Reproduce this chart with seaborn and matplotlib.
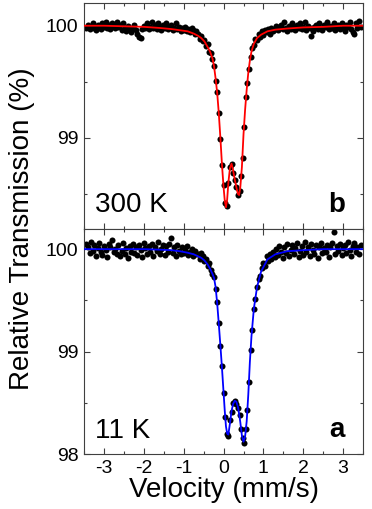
import numpy as np
import matplotlib
matplotlib.use("Agg")
import matplotlib.pyplot as plt
from matplotlib.ticker import MultipleLocator
import seaborn as sns

# velocity channels (mm/s)
velocity = [
    -3.44, -3.40, -3.36, -3.32, -3.28, -3.24, -3.20, -3.16, -3.12, -3.08,
    -3.04, -3.00, -2.96, -2.92, -2.88, -2.84, -2.80, -2.76, -2.72, -2.68,
    -2.64, -2.60, -2.56, -2.52, -2.48, -2.44, -2.40, -2.36, -2.32, -2.28,
    -2.24, -2.20, -2.16, -2.12, -2.08, -2.04, -2.00, -1.96, -1.92, -1.88,
    -1.84, -1.80, -1.76, -1.72, -1.68, -1.64, -1.60, -1.56, -1.52, -1.48,
    -1.44, -1.40, -1.36, -1.32, -1.28, -1.24, -1.20, -1.16, -1.12, -1.08,
    -1.04, -1.00, -0.96, -0.92, -0.88, -0.84, -0.80, -0.76, -0.72, -0.68,
    -0.64, -0.60, -0.56, -0.52, -0.48, -0.44, -0.40, -0.36, -0.32, -0.28,
    -0.24, -0.20, -0.16, -0.12, -0.08, -0.04, 0.00, 0.04, 0.08, 0.12,
    0.16, 0.20, 0.24, 0.28, 0.32, 0.36, 0.40, 0.44, 0.48, 0.52,
    0.56, 0.60, 0.64, 0.68, 0.72, 0.76, 0.80, 0.84, 0.88, 0.92,
    0.96, 1.00, 1.04, 1.08, 1.12, 1.16, 1.20, 1.24, 1.28, 1.32,
    1.36, 1.40, 1.44, 1.48, 1.52, 1.56, 1.60, 1.64, 1.68, 1.72,
    1.76, 1.80, 1.84, 1.88, 1.92, 1.96, 2.00, 2.04, 2.08, 2.12,
    2.16, 2.20, 2.24, 2.28, 2.32, 2.36, 2.40, 2.44, 2.48, 2.52,
    2.56, 2.60, 2.64, 2.68, 2.72, 2.76, 2.80, 2.84, 2.88, 2.92,
    2.96, 3.00, 3.04, 3.08, 3.12, 3.16, 3.20, 3.24, 3.28, 3.32,
    3.36, 3.40, 3.44,
]

# measured transmission, 300 K (panel b)
trans_300K = [
    99.98, 100.01, 99.97, 99.99, 100.02, 99.98, 99.96, 100.01, 100.00, 99.97,
    100.02, 99.99, 100.03, 99.98, 100.01, 99.97, 100.02, 100.00, 99.98, 100.03,
    99.99, 100.01, 99.96, 100.02, 99.98, 99.95, 100.00, 99.97, 99.94, 99.98,
    100.01, 99.96, 99.93, 99.90, 99.89, 99.97, 100.00, 99.98, 100.02, 99.97,
    99.99, 100.03, 99.98, 100.01, 99.97, 100.02, 99.99, 99.96, 100.01, 99.98,
    100.02, 99.97, 99.99, 100.01, 99.96, 99.98, 100.02, 99.97, 99.99, 99.95,
    99.98, 99.96, 99.99, 99.95, 99.97, 99.94, 99.98, 99.96, 99.93, 99.95,
    99.93, 99.88, 99.91, 99.86, 99.87, 99.82, 99.84, 99.77, 99.76, 99.70,
    99.64, 99.51, 99.41, 99.22, 98.99, 98.76, 98.58, 98.42, 98.39, 98.60,
    98.74, 98.77, 98.69, 98.62, 98.56, 98.49, 98.53, 98.66, 98.82, 99.10,
    99.36, 99.49, 99.61, 99.72, 99.80, 99.83, 99.88, 99.87, 99.93, 99.90,
    99.95, 99.92, 99.96, 99.94, 99.97, 99.93, 99.98, 99.95, 99.97, 100.00,
    99.96, 99.99, 100.01, 99.97, 100.03, 99.98, 99.95, 100.00, 99.97, 100.02,
    99.99, 99.96, 100.01, 99.98, 100.02, 99.97, 99.99, 100.03, 99.96, 100.00,
    99.98, 99.91, 99.95, 99.99, 100.01, 99.97, 100.02, 99.98, 99.96, 100.01,
    99.99, 100.03, 99.97, 100.00, 99.98, 100.02, 99.96, 99.99, 100.01, 99.97,
    100.02, 99.98, 99.95, 100.01, 99.99, 100.03, 99.97, 99.94, 99.93, 100.02,
    99.98, 100.04, 99.99,
]

# measured transmission, 11 K (panel a)
trans_11K = [
    100.05, 100.02, 99.96, 100.07, 99.98, 100.04, 99.93, 100.01, 100.06, 99.97,
    99.94, 100.03, 99.99, 99.92, 100.05, 100.02, 100.09, 99.97, 100.00, 99.95,
    100.04, 99.93, 99.98, 100.06, 99.95, 100.01, 99.91, 100.03, 99.97, 100.05,
    99.96, 100.02, 99.94, 100.04, 99.99, 99.92, 100.06, 100.01, 99.95, 100.03,
    99.97, 100.05, 99.93, 100.02, 99.98, 100.07, 99.95, 100.00, 100.04, 99.94,
    100.03, 99.97, 100.05, 100.11, 99.96, 100.02, 99.93, 100.04, 99.98, 99.95,
    100.02, 99.96, 99.99, 100.03, 99.94, 99.97, 100.00, 99.93, 99.98, 99.95,
    99.95, 99.90, 99.96, 99.93, 99.88, 99.90, 99.84, 99.86, 99.80, 99.76,
    99.73, 99.61, 99.48, 99.28, 99.05, 98.86, 98.60, 98.36, 98.20, 98.18,
    98.33, 98.41, 98.50, 98.52, 98.49, 98.45, 98.38, 98.24, 98.16, 98.11,
    98.24, 98.43, 98.70, 99.02, 99.21, 99.42, 99.51, 99.63, 99.71, 99.74,
    99.82, 99.86, 99.84, 99.93, 99.88, 99.95, 99.90, 99.97, 99.92, 100.00,
    99.94, 100.03, 99.97, 99.91, 100.02, 99.96, 100.05, 99.93, 99.99, 100.04,
    99.95, 100.01, 100.06, 99.92, 99.98, 100.03, 99.94, 100.07, 99.97, 100.02,
    99.93, 100.05, 99.99, 99.95, 100.04, 99.91, 100.02, 100.06, 99.96, 100.01,
    99.97, 100.04, 99.92, 100.02, 100.06, 100.17, 99.95, 100.03, 99.98, 100.05,
    99.94, 100.01, 100.04, 99.96, 100.07, 99.99, 99.93, 100.03, 100.06, 99.97,
    100.02, 99.95, 100.04,
]

# fitted curves
fit_velocity = [
    -3.5, -3.0, -2.5, -2.0, -1.6, -1.3, -1.1, -0.9, -0.75, -0.64,
    -0.56, -0.48, -0.40, -0.34, -0.28, -0.24, -0.20, -0.16, -0.12, -0.08,
    -0.04, 0.00, 0.03, 0.06, 0.09, 0.12, 0.16, 0.20, 0.24, 0.28,
    0.32, 0.36, 0.39, 0.42, 0.46, 0.50, 0.54, 0.58, 0.62, 0.66,
    0.70, 0.76, 0.84, 0.94, 1.1, 1.3, 1.6, 2.0, 2.5, 3.0, 3.5,
]
fit_300K = [
    100.00, 100.00, 99.995, 99.99, 99.98, 99.97, 99.96, 99.95, 99.93, 99.91,
    99.89, 99.86, 99.81, 99.77, 99.71, 99.64, 99.53, 99.40, 99.22, 99.00,
    98.76, 98.56, 98.44, 98.38, 98.45, 98.60, 98.73, 98.77, 98.71, 98.63,
    98.56, 98.50, 98.49, 98.56, 98.74, 99.03, 99.25, 99.43, 99.58, 99.69,
    99.77, 99.84, 99.89, 99.92, 99.95, 99.965, 99.975, 99.985, 99.99, 100.00, 100.00,
]
fit_11K = [
    100.00, 100.00, 100.00, 100.00, 99.995, 99.99, 99.98, 99.965, 99.95, 99.93,
    99.915, 99.89, 99.85, 99.81, 99.76, 99.72, 99.63, 99.47, 99.27, 99.06,
    98.84, 98.60, 98.42, 98.27, 98.20, 98.19, 98.30, 98.42, 98.49, 98.52,
    98.51, 98.46, 98.39, 98.31, 98.18, 98.12, 98.17, 98.32, 98.58, 98.90,
    99.15, 99.42, 99.63, 99.78, 99.90, 99.95, 99.98, 99.99, 100.00, 100.00, 100.00,
]

sns.set_style("white")
plt.rcParams['font.family'] = ['Liberation Sans', 'DejaVu Sans']
plt.rcParams['text.color'] = 'black'
plt.rcParams['axes.labelcolor'] = 'black'
plt.rcParams['xtick.color'] = 'black'
plt.rcParams['ytick.color'] = 'black'

fig, (ax_b, ax_a) = plt.subplots(2, 1, sharex=True, figsize=(3.72, 5.09), dpi=100)
fig.subplots_adjust(left=0.226, right=0.976, top=0.9935, bottom=0.108, hspace=0)

panels = [
    (ax_b, trans_300K, fit_300K, 'red', '300 K', 'b', (98.19, 100.2)),
    (ax_a, trans_11K, fit_11K, 'blue', '11 K', 'a', (98.0, 100.2)),
]

for ax, trans, fit, col, temp, letter, ylim in panels:
    sns.scatterplot(x=velocity, y=trans, ax=ax, color='black', s=19,
                    linewidth=0, zorder=2)
    sns.lineplot(x=fit_velocity, y=fit, ax=ax, color=col, linewidth=1.3,
                 zorder=3)
    ax.set_xlim(-3.5, 3.5)
    ax.set_ylim(*ylim)
    ax.xaxis.set_major_locator(MultipleLocator(1))
    ax.xaxis.set_minor_locator(MultipleLocator(0.5))
    ax.yaxis.set_major_locator(MultipleLocator(1))
    ax.yaxis.set_minor_locator(MultipleLocator(0.5))
    ax.tick_params(which='both', direction='in', top=True, right=True,
                   bottom=True, left=True, labelsize=14, color='#404040',
                   labelcolor='black', width=0.8)
    ax.tick_params(which='major', length=4.3, pad=4)
    ax.tick_params(which='minor', length=2.2)
    for sp in ax.spines.values():
        sp.set_color('#404040')
        sp.set_linewidth(0.8)
    ax.text(0.039, 0.072, temp, transform=ax.transAxes, fontsize=20,
            ha='left', va='baseline', color='black')
    ax.text(0.935, 0.075, letter, transform=ax.transAxes, fontsize=20,
            fontweight='bold', ha='right', va='baseline', color='black')
    ax.set_ylabel('')

ax_b.tick_params(labelbottom=False)
ax_a.set_xlabel('Velocity (mm/s)', fontsize=20, labelpad=0, color='black')
fig.text(0.06, (0.9935 + 0.108) / 2, 'Relative Transmission (%)', fontsize=20,
         rotation=90, ha='center', va='center', color='black')
ax_a.set_xticks([-3, -2, -1, 0, 1, 2, 3])
ax_a.set_xticklabels(['-3', '-2', '-1', '0', '1', '2', '3'])

fig.savefig('out.png', dpi=100)
